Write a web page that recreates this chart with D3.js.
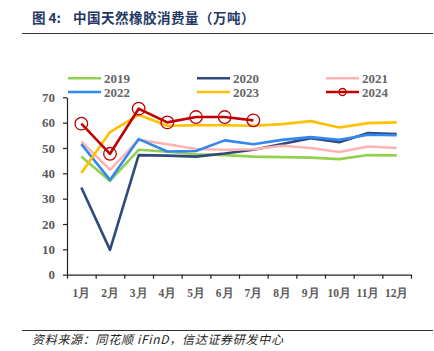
<!DOCTYPE html>
<html>
<head>
    <meta charset="utf-8">
    <title>中国天然橡胶消费量</title>
    <script src="https://cdn.jsdelivr.net/npm/d3@7/dist/d3.min.js"></script>
    <style>
        body { margin: 0; background: #fff; }
        .tick text { font-family: "Liberation Serif", "Times New Roman", serif; font-weight: bold; fill: #595959; }
        .axis path, .axis line { stroke: #222; stroke-width: 1.2; }
    </style>
</head>
<body>
<script>

    var width = 434,
        height = 351;

    var months = ["1月","2月","3月","4月","5月","6月","7月","8月","9月","10月","11月","12月"];
    var yTicks = [0, 10, 20, 30, 40, 50, 60, 70];

    var years = ["2019","2020","2021","2022","2023","2024"];
    var colors = ["#92d050","#2f4a7a","#ffb3b3","#3388f0","#ffc000","#c00000"];

    var v2019 = [46.6, 37.0, 49.3, 48.5, 47.5, 47.2, 46.6, 46.4, 46.2, 45.6, 47.2, 47.1];
    var v2020 = [34.4, 9.8, 47.2, 47.0, 46.6, 47.8, 49.3, 51.6, 53.9, 52.3, 55.9, 55.5];
    var v2021 = [52.6, 41.4, 53.2, 51.5, 49.6, 49.3, 49.5, 50.9, 50.0, 48.4, 50.6, 50.0];
    var v2022 = [51.5, 37.4, 53.5, 48.6, 48.8, 53.0, 51.5, 53.2, 54.3, 53.2, 55.2, 55.0];
    var v2023 = [40.1, 56.3, 63.1, 58.8, 59.0, 59.0, 58.8, 59.4, 60.6, 58.1, 59.8, 60.1];
    var v2024 = [59.6, 47.7, 65.5, 60.1, 62.2, 62.2, 60.9];

    var series = [v2019, v2020, v2021, v2022, v2023, v2024];

    var x = d3.scaleBand()
            .domain(months)
            .range([67, 411]),

        xEdge = d3.scaleLinear()
            .domain([0, 12])
            .range([67, 411]),

        y = d3.scaleLinear()
            .domain([0, 70])
            .range([274.7, 97.3]);

    var svg = d3.select("body").append("svg")
        .attr("width", width)
        .attr("height", height);

    // title + rules
    var titleFont = function(sel){
        sel.style("font-family", "'Noto Sans CJK SC', sans-serif")
            .style("font-weight", "bold")
            .style("font-size", "13.5px")
            .style("fill", "#1f3864");
    };

    svg.append("text")
        .attr("x", 32).attr("y", 23)
        .call(titleFont)
        .text("图 4:");

    svg.append("text")
        .attr("x", 73).attr("y", 23)
        .call(titleFont)
        .style("letter-spacing", "0.5px")
        .text("中国天然橡胶消费量（万吨）");

    svg.append("line")
        .attr("x1", 22).attr("x2", 433).attr("y1", 33.5).attr("y2", 33.5)
        .attr("stroke", "#333").attr("stroke-width", 1);

    svg.append("line")
        .attr("x1", 22).attr("x2", 433).attr("y1", 330.5).attr("y2", 330.5)
        .attr("stroke", "#333").attr("stroke-width", 1);

    svg.append("text")
        .attr("x", 32).attr("y", 344)
        .style("font-family", "'Noto Sans CJK SC', sans-serif")
        .style("font-style", "italic")
        .style("font-size", "12px")
        .style("letter-spacing", "0.7px")
        .style("fill", "#222")
        .text("资料来源：同花顺 iFinD，信达证券研发中心");

    // axes
    var yAxis = d3.axisLeft(y)
        .tickValues(yTicks)
        .tickSize(4)
        .tickSizeOuter(0)
        .tickPadding(8);

    var gy = svg.append("g")
        .attr("class", "axis")
        .attr("transform", "translate(67,0)")
        .call(yAxis);
    gy.selectAll("text").style("font-size", "13px");

    var gx = svg.append("g")
        .attr("class", "axis")
        .attr("transform", "translate(0,274.7)")
        .call(d3.axisBottom(xEdge)
            .tickValues(d3.range(13))
            .tickSize(4)
            .tickSizeOuter(0)
            .tickFormat(""));

    var gxl = svg.append("g")
        .attr("transform", "translate(0,274.7)")
        .call(d3.axisBottom(x).tickSize(0).tickPadding(14));
    gxl.select(".domain").remove();
    gxl.selectAll("text").style("font-size", "11.5px");

    var line = d3.line()
        .x(function(d, i){ return x(months[i]) + x.bandwidth() / 2; })
        .y(function(d){ return y(d); });

    svg.selectAll("path.series")
        .data(series)
        .enter()
        .append("path")
        .attr("class", "series")
        .attr("fill", "none")
        .attr("stroke", function(d, i){ return colors[i]; })
        .attr("stroke-width", 2.6)
        .attr("stroke-linejoin", "round")
        .attr("d", function(d){ return line(d); });

    svg.selectAll("circle.m2024")
        .data(v2024)
        .enter()
        .append("circle")
        .attr("class", "m2024")
        .attr("cx", function(d, i){ return x(months[i]) + x.bandwidth() / 2; })
        .attr("cy", function(d){ return y(d); })
        .attr("r", 6.3)
        .attr("fill", "none")
        .attr("stroke", colors[5])
        .attr("stroke-width", 1.3);

    // legend
    var legX = [68, 197, 326],
        legY = [78.3, 92];

    var leg = svg.selectAll("g.leg")
        .data(years)
        .enter()
        .append("g")
        .attr("class", "leg")
        .attr("transform", function(d, i){
            return "translate(" + legX[i % 3] + "," + legY[Math.floor(i / 3)] + ")";
        });

    leg.append("line")
        .attr("x1", 0).attr("x2", 33)
        .attr("stroke", function(d, i){ return colors[i]; })
        .attr("stroke-width", 2.6);

    leg.filter(function(d){ return d === "2024"; })
        .append("circle")
        .attr("cx", 16.5).attr("r", 3.5)
        .attr("fill", "none")
        .attr("stroke", colors[5])
        .attr("stroke-width", 1.3);

    leg.append("text")
        .attr("x", 36).attr("y", 4.5)
        .style("font-family", "'Liberation Serif', serif")
        .style("font-weight", "bold")
        .style("font-size", "13px")
        .style("fill", "#666")
        .text(function(d){ return d; });

</script>
</body>
</html>
